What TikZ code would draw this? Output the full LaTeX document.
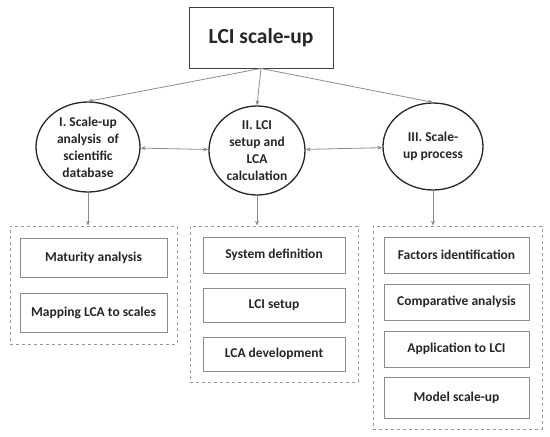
\documentclass[tikz,border=0pt]{standalone}
\usepackage{fontspec}
\setmainfont{Carlito}
\usetikzlibrary{arrows.meta, shapes.geometric}

\begin{document}
\begin{tikzpicture}[
  x=1pt, y=-1pt,
  every node/.style={font=\bfseries\fontsize{13.5}{17}\selectfont, text=black!85},
  title/.style={draw=black!75, line width=0.9pt, minimum width=144pt, minimum height=61pt, font=\bfseries\fontsize{21.5}{25}\selectfont},
  phase/.style={ellipse, draw=black!85, line width=1.3pt, inner sep=0pt, align=center},
  group/.style={draw=black!40, dashed, line width=0.6pt},
  task/.style={draw=black!45, line width=0.7pt, inner sep=0pt},
  link/.style={draw=black!45, line width=0.8pt, -{Stealth[length=5pt, width=4pt]}},
  both/.style={draw=black!45, line width=0.8pt, {Stealth[length=5pt, width=4pt]}-{Stealth[length=5pt, width=4pt]}}
]
\useasboundingbox (0,0) rectangle (550,437);

% Top
\node[title] (top) at (261,37.5) {LCI scale-up};

% Phases
\node[phase, minimum width=104pt, minimum height=90pt] (p1) at (88,147) {I. Scale-up\\analysis\ \ of\\scientific\\database};
\node[phase, minimum width=96pt, minimum height=89pt] (p2) at (257,150.5) {II. LCI\\setup and\\LCA\\calculation};
\node[phase, minimum width=100pt, minimum height=87pt] (p3) at (433,146.5) {III. Scale-\\up process};

% Groups
\node[group, minimum width=167pt, minimum height=118pt] (g1) at (93.5,285) {};
\node[group, minimum width=168pt, minimum height=156pt] (g2) at (274,304) {};
\node[group, minimum width=169pt, minimum height=203pt] (g3) at (457.5,327.5) {};

% Tasks of phase I
\node[task, minimum width=147pt, minimum height=39pt] (t11) at (93.5,257.5) {Maturity analysis};
\node[task, minimum width=147pt, minimum height=39pt] (t12) at (93.5,312.5) {Mapping LCA to scales};

% Tasks of phase II
\node[task, minimum width=142pt, minimum height=36pt] (t21) at (274,255) {System definition};
\node[task, minimum width=142pt, minimum height=34pt] (t22) at (274,305) {LCI setup};
\node[task, minimum width=142pt, minimum height=34pt] (t23) at (274,354) {LCA development};

% Tasks of phase III
\node[task, minimum width=145pt, minimum height=36pt] (t31) at (456.5,255) {Factors identification};
\node[task, minimum width=145pt, minimum height=36pt] (t32) at (456.5,302) {Comparative analysis};
\node[task, minimum width=145pt, minimum height=36pt] (t33) at (456.5,349) {Application to LCI};
\node[task, minimum width=145pt, minimum height=41pt] (t34) at (456.5,397.5) {Model scale-up};

% Top to phases
\draw[link] (top.south) -- (p1.north);
\draw[link] (top.south) -- (p2.north);
\draw[link] (top.south) -- (p3.north);

% Between phases
\draw[both] (p1) -- (p2);
\draw[both] (p2) -- (p3);

% Phases to groups
\draw[link] (p1.south) -- (p1.south |- g1.north);
\draw[link] (p2.south) -- (p2.south |- g2.north);
\draw[link] (p3.south) -- (p3.south |- g3.north);

\end{tikzpicture}
\end{document}
